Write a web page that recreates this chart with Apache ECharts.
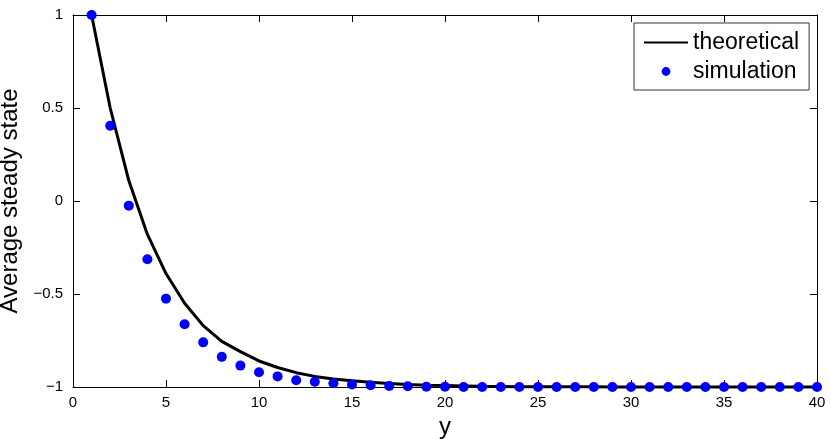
<!DOCTYPE html>
<html>
<head>
<meta charset="utf-8">
<script src="https://cdn.jsdelivr.net/npm/echarts@6/dist/echarts.min.js"></script>
<style>
html,body{margin:0;padding:0;background:#fff;}
#chart{width:831px;height:439px;}
</style>
</head>
<body>
<div id="chart"></div>
<script>
// x values (y on the axis)
var xValues = [1,2,3,4,5,6,7,8,9,10,11,12,13,14,15,16,17,18,19,20,21,22,23,24,25,26,27,28,29,30,31,32,33,34,35,36,37,38,39,40];
// theoretical curve values
var theoretical = [1,0.50,0.11,-0.18,-0.39,-0.55,-0.67,-0.755,-0.81,-0.86,-0.895,-0.923,-0.943,-0.957,-0.967,-0.975,-0.981,-0.986,-0.99,-0.992,-0.994,-0.996,-0.997,-0.998,-0.998,-0.999,-0.999,-0.999,-1,-1,-1,-1,-1,-1,-1,-1,-1,-1,-1,-1];
// simulation values
var simulation = [1,0.405,-0.025,-0.313,-0.525,-0.663,-0.76,-0.838,-0.885,-0.921,-0.943,-0.964,-0.972,-0.98,-0.987,-0.991,-0.994,-0.996,-0.998,-0.999,-1,-1,-1,-1,-1,-1,-1,-1,-1,-1,-1,-1,-1,-1,-1,-1,-1,-1,-1,-1];
var xTicks = [0,5,10,15,20,25,30,35,40];
var yTicks = [-1,-0.5,0,0.5,1];

var FONT = '"Liberation Sans", Arial, Helvetica, sans-serif';
function pairs(xs, ys){ return xs.map(function(x,i){ return [x, ys[i]]; }); }
function fmt(v){ return String(v).replace('-', '\u2212'); }

var chart = echarts.init(document.getElementById('chart'), null, {renderer:'canvas'});
var axisLine = {show:true, onZero:false, lineStyle:{color:'#000', width:1}};
var tick = {show:true, inside:true, length:7, lineStyle:{color:'#000', width:1}};
chart.setOption({
  animation:false,
  backgroundColor:'#fff',
  textStyle:{fontFamily:FONT},
  grid:{left:73, right:14, top:15, bottom:52, containLabel:false, outerBoundsMode:'none'},
  legend:{
    orient:'vertical', left:634, top:23,
    padding:[8,10,7,9], itemGap:6, itemWidth:44, itemHeight:11,
    backgroundColor:'#fff', borderColor:'#333', borderWidth:1, borderRadius:0,
    textStyle:{fontSize:23, lineHeight:22, color:'#000', fontFamily:FONT},
    data:[{name:'theoretical', itemStyle:{opacity:0}}, {name:'simulation'}]
  },
  xAxis:[{
    type:'value', position:'bottom', min:xTicks[0], max:xTicks[xTicks.length-1], interval:5,
    axisLine:axisLine, axisTick:tick, splitLine:{show:false},
    axisLabel:{fontSize:15, color:'#000', margin:8, fontFamily:FONT, formatter:fmt},
    name:'y', nameLocation:'middle', nameGap:21,
    nameTextStyle:{fontSize:24, color:'#000', fontFamily:FONT}
  },{
    type:'value', position:'top', min:xTicks[0], max:xTicks[xTicks.length-1], interval:5,
    axisLine:axisLine, axisTick:tick, splitLine:{show:false}, axisLabel:{show:false}
  }],
  yAxis:[{
    type:'value', position:'left', min:yTicks[0], max:yTicks[yTicks.length-1], interval:0.5,
    axisLine:axisLine, axisTick:tick, splitLine:{show:false},
    axisLabel:{fontSize:15, color:'#000', margin:10, fontFamily:FONT, formatter:fmt},
    name:'Average steady state', nameLocation:'middle', nameGap:46, nameRotate:90,
    nameTextStyle:{fontSize:24, color:'#000', fontFamily:FONT}
  },{
    type:'value', position:'right', min:yTicks[0], max:yTicks[yTicks.length-1], interval:0.5,
    axisLine:axisLine, axisTick:tick, splitLine:{show:false}, axisLabel:{show:false}
  }],
  series:[{
    name:'theoretical', type:'line', data:pairs(xValues, theoretical),
    symbol:'none', clip:false, z:2,
    lineStyle:{color:'#000', width:3}, itemStyle:{color:'#000'}
  },{
    name:'simulation', type:'line', data:pairs(xValues, simulation),
    symbol:'circle', symbolSize:10, showSymbol:true, showAllSymbol:true, clip:false, z:3,
    lineStyle:{opacity:0, width:0}, itemStyle:{color:'#0000ff', borderWidth:0}
  }]
});
</script>
</body>
</html>
